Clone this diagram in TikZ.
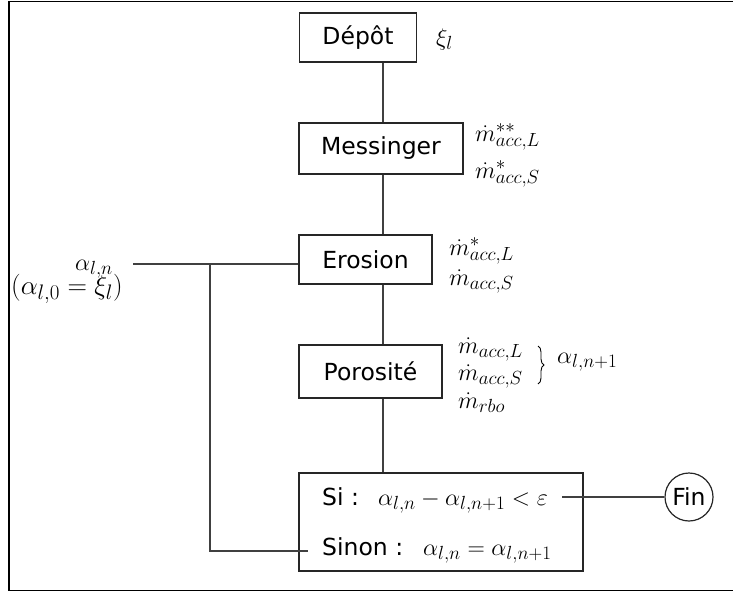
\documentclass[tikz,border=0pt]{standalone}
\usepackage{fix-cm}
\usepackage[no-math]{fontspec}
\newfontfamily\dejavu{DejaVu Sans}
\DeclareMathSizes{24}{24}{19}{15}
\DeclareMathSizes{27}{27}{21}{17}
\usetikzlibrary{decorations.pathreplacing}
\newcommand\mysf{\dejavu\fontsize{23.5}{28}\selectfont}
\newcommand\mymath{\fontsize{24}{29}\selectfont}
\newcommand\mymathbig{\fontsize{27}{32}\selectfont}
\tikzset{
  box/.style={draw=black!85, line width=1.2pt, rectangle, inner sep=0pt, font=\mysf, text=black},
  conn/.style={draw=black!75, line width=1.1pt},
  mlab/.style={inner sep=0pt, anchor=base west, font=\mymath, text=black},
  sflab/.style={inner sep=0pt, anchor=base west, font=\mysf, text=black},
  frame/.style={draw=black, line width=1.3pt}
}
\begin{document}
\begin{tikzpicture}[x=1pt,y=-1pt]
\useasboundingbox (0,0) rectangle (733,592);
\draw[frame] (733,1.5) -- (9,1.5) -- (9,590.5) -- (733,590.5);

% boxes
\node[box, minimum width=117pt, minimum height=49pt] (depot) at (358,37.5) {Dépôt};
\node[box, minimum width=164pt, minimum height=51pt] (mess) at (381,148.5) {Messinger};
\node[box, minimum width=133pt, minimum height=49pt] (eros) at (365.5,259.5) {Erosion};
\node[box, minimum width=143pt, minimum height=53pt] (poro) at (370.5,371.5) {Porosité};
\node[box, minimum width=284pt, minimum height=98pt] (cond) at (441,522) {};
\node[box, circle, minimum size=48pt] (fin) at (689,497) {Fin};

% condition texts
\node[sflab] (si) at (322,505) {Si :};
\node[mlab] (sim) at (378,505) {$\alpha_{l,n}-\alpha_{l,n+1}<\varepsilon$};
\node[sflab] (sinon) at (322,555) {Sinon :};
\node[mlab] (sinonm) at (423,555) {$\alpha_{l,n}=\alpha_{l,n+1}$};

% side labels
\node[mlab] (xi) at (436,45) {$\xi_l$};
\node[mlab] (m1) at (475,141) {$\dot m^{**}_{acc,L}$};
\node[mlab] (m2) at (475,178) {$\dot m^{*}_{acc,S}$};
\node[mlab] (m3) at (449,255) {$\dot m^{*}_{acc,L}$};
\node[mlab] (m4) at (449,285) {$\dot m_{acc,S}$};
\node[mlab] (m5) at (458,353) {$\dot m_{acc,L}$};
\node[mlab] (m6) at (458,380) {$\dot m_{acc,S}$};
\node[mlab] (m7) at (458,408) {$\dot m_{rbo}$};
\node[mlab] (anp) at (557,363) {$\alpha_{l,n+1}$};
\node[mlab] (aln) at (75,270) {$\alpha_{l,n}$};
\node[mlab, font=\mymathbig] (al0) at (11,294) {$(\alpha_{l,0}=\xi_l)$};

\draw[black, line width=0.9pt, decorate, decoration={brace, amplitude=6pt}] (538,346) -- (538,384);

% connectors
\coordinate (vx) at (383,0);
\draw[conn] (depot.south -| vx) -- (mess.north -| vx);
\draw[conn] (mess.south -| vx) -- (eros.north -| vx);
\draw[conn] (eros.south -| vx) -- (poro.north -| vx);
\draw[conn] (poro.south -| vx) -- (cond.north -| vx);

\coordinate (inl) at (133,264);
\coordinate (br) at (210,264);
\coordinate (sinonl) at (308,551);
\coordinate (siend) at (562,497);
\draw[conn] (inl) -- (eros.west |- inl);
\draw[conn] (br) |- (sinonl);
\draw[conn] (siend) -- (fin.west);
\end{tikzpicture}
\end{document}
